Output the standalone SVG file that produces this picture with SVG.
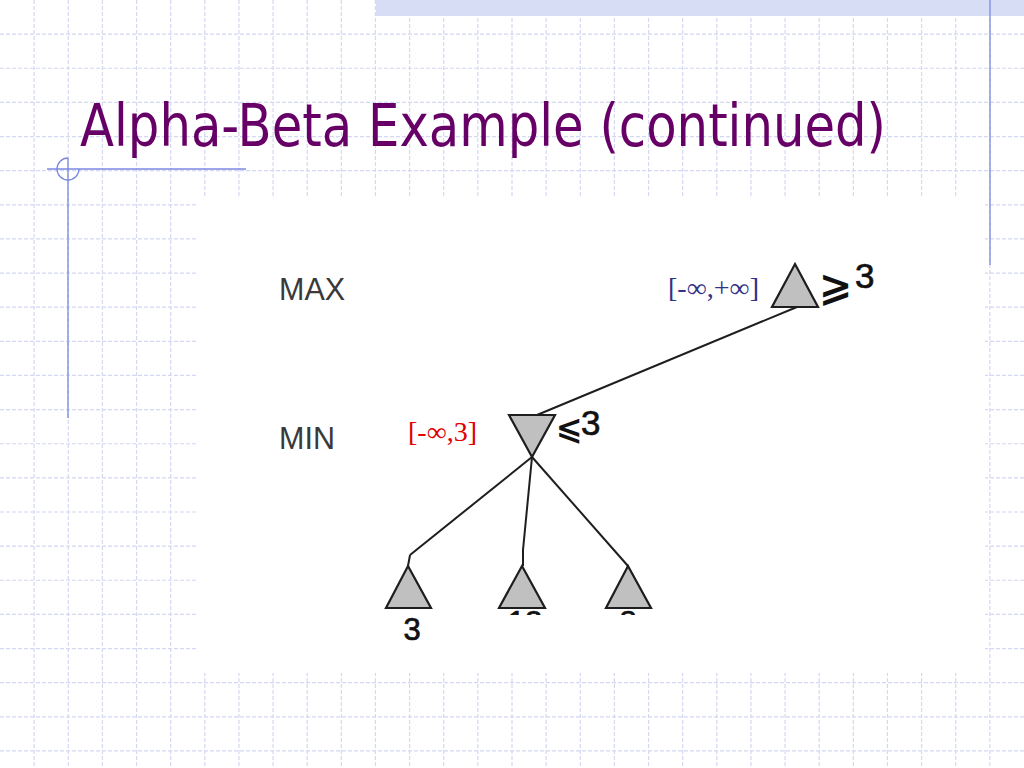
<svg xmlns="http://www.w3.org/2000/svg" width="1024" height="768" viewBox="0 0 1024 768">
<defs>
<style>
.grid{fill:none;stroke:#d4d8f2;stroke-width:1.2;stroke-dasharray:4 2}
.deco{fill:none;stroke:#7b88e0;stroke-width:1.3}
.title{font-family:"DejaVu Sans","Liberation Sans",sans-serif;font-size:58px;fill:#660066}
.lvl{font-family:"Liberation Sans",Arial,sans-serif;font-size:30.5px;fill:#3a3a3a}
.tri{fill:#c0c0c0;stroke:#1e1e1e;stroke-width:2.2;stroke-linejoin:miter}
.edge{fill:none;stroke:#1e1e1e;stroke-width:2}
.val{font-family:"Liberation Sans",Arial,sans-serif;font-size:35px;fill:#111;stroke:#111;stroke-width:0.7}
.leafv{font-family:"Liberation Sans",Arial,sans-serif;font-size:31px;fill:#111;stroke:#111;stroke-width:0.7}
.sym{font-family:"DejaVu Sans","Liberation Sans",sans-serif;font-weight:bold;fill:#111}
.ab{font-family:"Liberation Serif","Times New Roman",serif;font-size:27px}
</style>
<clipPath id="cut"><rect x="480" y="560" width="200" height="55"/></clipPath>
</defs>
<rect width="1024" height="768" fill="#ffffff"/>
<path class="grid" d="M34.13 0V768M68.27 0V768M102.4 0V768M136.53 0V768M170.67 0V768M204.8 0V768M238.93 0V768M273.07 0V768M307.2 0V768M341.33 0V768M375.47 0V768M409.6 0V768M443.73 0V768M477.87 0V768M512 0V768M546.13 0V768M580.27 0V768M614.4 0V768M648.53 0V768M682.67 0V768M716.8 0V768M750.93 0V768M785.07 0V768M819.2 0V768M853.33 0V768M887.47 0V768M921.6 0V768M955.73 0V768M989.87 0V768M0 34.13H1024M0 68.27H1024M0 102.4H1024M0 136.53H1024M0 170.67H1024M0 204.8H1024M0 238.93H1024M0 273.07H1024M0 307.2H1024M0 341.33H1024M0 375.47H1024M0 409.6H1024M0 443.73H1024M0 477.87H1024M0 512H1024M0 546.13H1024M0 580.27H1024M0 614.4H1024M0 648.53H1024M0 682.67H1024M0 716.8H1024M0 750.93H1024"/>
<rect x="376" y="0" width="648" height="16" fill="#d6ddf4"/>
<line class="deco" x1="990" y1="0" x2="990" y2="265"/>
<g id="title-deco">
<line class="deco" x1="47" y1="169" x2="246" y2="169"/>
<line class="deco" x1="68" y1="158" x2="68" y2="418"/>
<path class="deco" d="M68 158A11 11 0 1 0 79 169"/>
</g>
<text id="title" class="title" x="80" y="146" textLength="806" lengthAdjust="spacingAndGlyphs">Alpha-Beta Example (continued)</text>
<rect x="197" y="196" width="788" height="477" fill="#ffffff"/>
<text class="lvl" x="279" y="300">MAX</text>
<text class="lvl" x="279" y="449">MIN</text>
<g id="connectors">
<line class="edge" x1="797" y1="307" x2="537" y2="415"/>
<line class="edge" x1="532" y1="457" x2="410" y2="555"/>
<line class="edge" x1="410" y1="555" x2="408" y2="566"/>
<line class="edge" x1="532" y1="457" x2="523" y2="550"/>
<line class="edge" x1="523" y1="550" x2="523" y2="566"/>
<line class="edge" x1="532" y1="457" x2="628" y2="566"/>
</g>
<g id="node-max">
<polygon class="tri" points="795,264 818,307 772,307"/>
<text class="sym" x="819" y="300" font-size="40">⩾</text>
<text class="val" x="855" y="288">3</text>
<text class="ab" x="668" y="297" fill="#333388" textLength="91" lengthAdjust="spacingAndGlyphs">[-∞,+∞]</text>
</g>
<g id="node-min">
<polygon class="tri" points="509,415 555,415 532,457"/>
<text class="sym" x="556" y="439" font-size="32">⩽</text>
<text class="val" x="581" y="435">3</text>
<text class="ab" x="408" y="441" fill="#e00000" textLength="69" lengthAdjust="spacingAndGlyphs">[-∞,3]</text>
</g>
<g id="leaf-1">
<polygon class="tri" points="408,566 431,608 386,608"/>
<text class="leafv" x="412" y="640" text-anchor="middle">3</text>
</g>
<g id="leaf-2">
<polygon class="tri" points="522,566 545,608 499,608"/>
<text class="leafv" x="525" y="633" text-anchor="middle" clip-path="url(#cut)">12</text>
</g>
<g id="leaf-3">
<polygon class="tri" points="628,566 651,608 606,608"/>
<text class="leafv" x="628" y="633" text-anchor="middle" clip-path="url(#cut)">8</text>
</g>
</svg>
